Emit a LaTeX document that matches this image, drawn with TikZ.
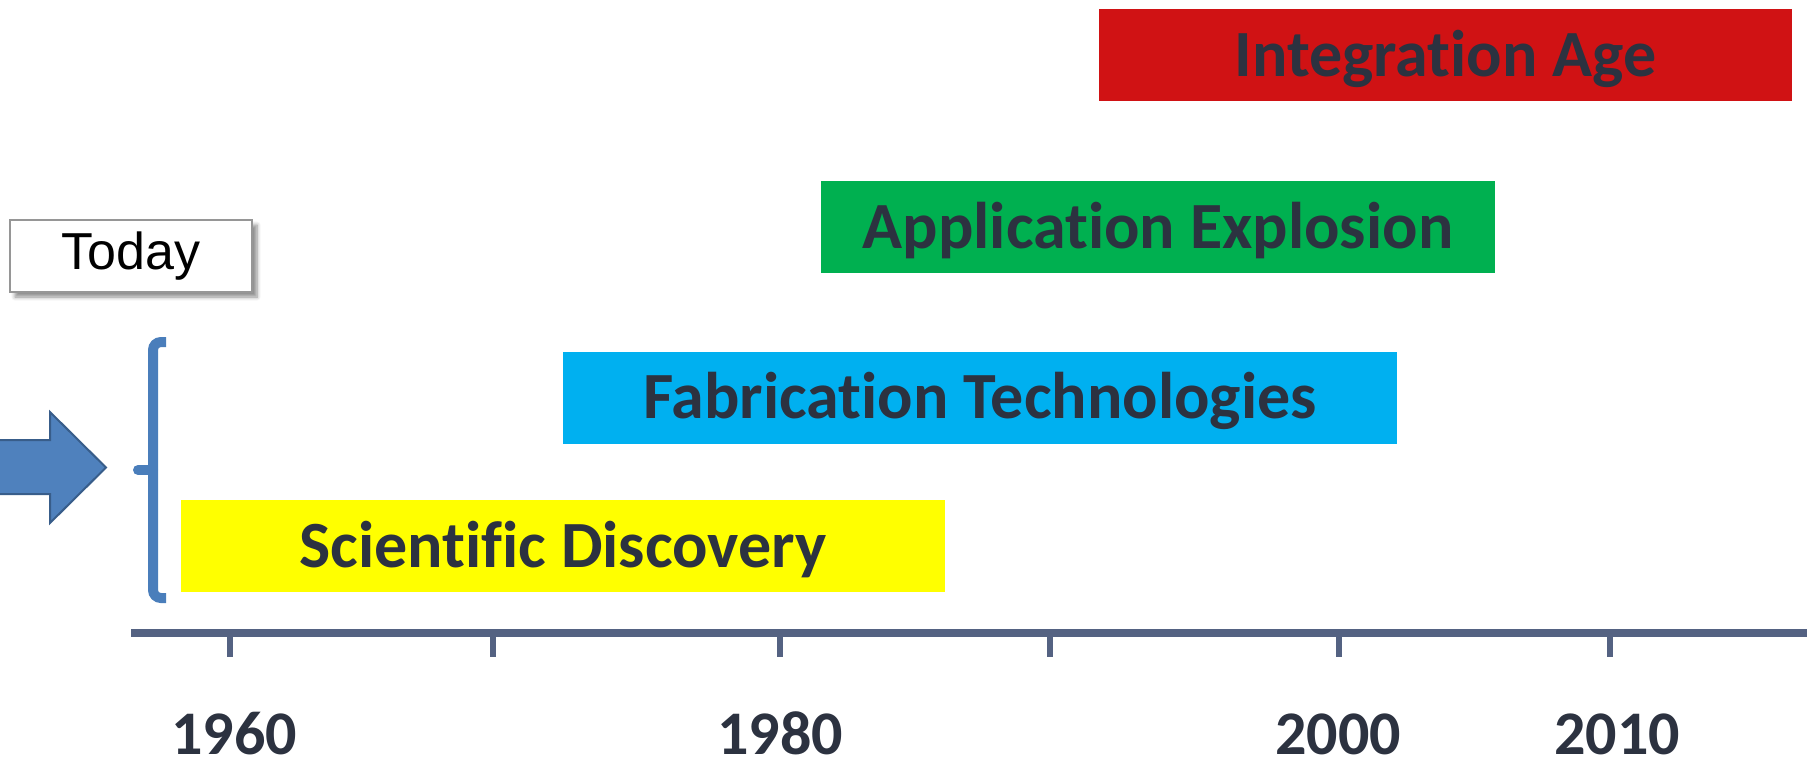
\documentclass[tikz,border=0pt]{standalone}
\usepackage{fontspec}
\setmainfont[Ligatures=NoCommon]{Carlito}
\newfontfamily\labelsans{Liberation Sans}
\usetikzlibrary{shadows.blur}

\definecolor{barred}{RGB}{208,18,20}
\definecolor{bargreen}{RGB}{0,176,80}
\definecolor{barcyan}{RGB}{0,176,240}
\definecolor{baryellow}{RGB}{255,255,0}
\definecolor{inktext}{RGB}{44,50,64}
\definecolor{axisblue}{RGB}{84,98,130}
\definecolor{bracketblue}{RGB}{74,126,187}
\definecolor{arrowfill}{RGB}{79,129,189}
\definecolor{arrowline}{RGB}{56,93,138}

\tikzset{
  bar/.style={rectangle, inner sep=0pt, minimum height=46pt,
    font=\bfseries\fontsize{33}{33}\selectfont, text=inktext,
    text height=21pt, text depth=0pt},
  yearlabel/.style={anchor=base, inner sep=0pt,
    font=\bfseries\fontsize{31}{31}\selectfont, text=inktext,
    text height=20pt, text depth=0pt},
  axisline/.style={draw=axisblue, line width=4pt},
  tickline/.style={draw=axisblue, line width=3pt},
}

\begin{document}
\begin{tikzpicture}[x=0.5pt,y=-0.5pt]
\useasboundingbox (0,0) rectangle (1820,767);

% era bars
\node[bar, fill=barred, minimum width=346.5pt] (integ) at (1445.5,55) {Integration Age};
\node[bar, fill=bargreen, minimum width=337pt] (appl) at (1158,227) {Application Explosion};
\node[bar, fill=barcyan, minimum width=417pt] (fabr) at (980,397.5) {Fabrication Technologies};
\node[bar, fill=baryellow, minimum width=382pt] (scien) at (563,546) {Scientific Discovery};

% "Today" call-out
\node[draw={rgb,255:red,150;green,150;blue,150}, line width=0.8pt, fill=white,
  minimum width=121pt, minimum height=36pt, inner sep=0pt,
  blur shadow={shadow xshift=2.5pt, shadow yshift=-2.5pt, shadow blur steps=6, shadow opacity=45},
  font=\labelsans\fontsize{26}{26}\selectfont] (today) at (131,256) {Today};

% pointer arrow
\fill[arrowfill, draw=arrowline, line width=1pt, line join=miter]
  (-10,440) -- (50,440) -- (50,412) -- (106,467.5) -- (50,523) -- (50,494) -- (-10,494) -- cycle;

% bracket
\draw[bracketblue, line width=5pt, rounded corners=4pt]
  (166,342) -- (153,342) -- (153,598) -- (166,598);
\draw[bracketblue, line width=5pt, line cap=round] (153,470) -- (138,470);

% time axis
\coordinate (axL) at (131,632.5);
\coordinate (axR) at (1807,632.5);
\draw[axisline] (axL) -- (axR);
\foreach \tx in {230,493,780,1050,1339,1610}
  \draw[tickline] (\tx,632.5) -- (\tx,657);

% year labels
\node[yearlabel] (y1960) at (234,754) {1960};
\node[yearlabel] (y1980) at (780,754) {1980};
\node[yearlabel] (y2000) at (1338,754) {2000};
\node[yearlabel] (y2010) at (1617,754) {2010};
\end{tikzpicture}
\end{document}
